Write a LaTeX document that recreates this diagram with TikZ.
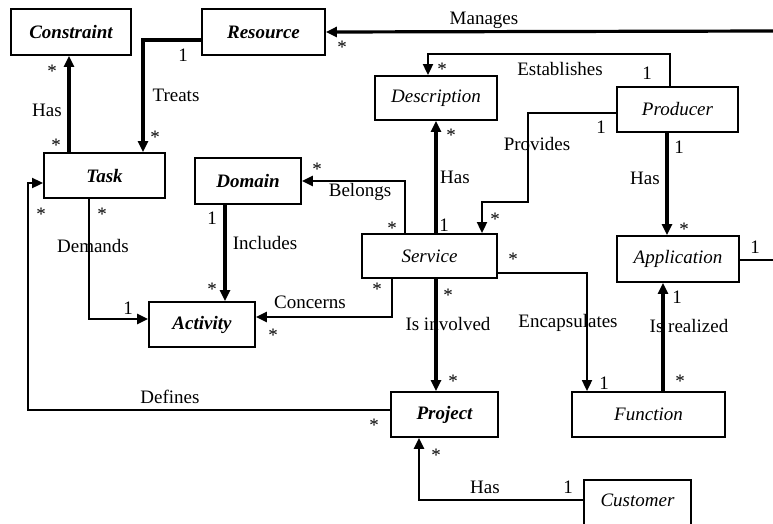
\documentclass[tikz,border=0pt]{standalone}
\usepackage{fontspec}
\setmainfont{Liberation Serif}
\usetikzlibrary{arrows.meta}

\begin{document}
\begin{tikzpicture}[x=1pt,y=-1pt]
\tikzstyle{every node}=[font=\fontsize{19}{22}\selectfont,inner sep=1pt]
\tikzstyle{entity}=[draw,line width=1.8pt,inner sep=0pt,font=\fontsize{19}{22}\selectfont\itshape]
\tikzstyle{core}=[entity,font=\fontsize{19}{22}\selectfont\bfseries\itshape]
\tikzstyle{weak}=[line width=1.8pt,-{Triangle[length=11pt,width=10pt]}]
\tikzstyle{strong}=[line width=3.2pt,-{Triangle[length=11pt,width=10pt]}]
\useasboundingbox (0,0) rectangle (773,523);
\clip (0,0) rectangle (773,523);
% classes
\node[core,minimum width=120,minimum height=46] (Constraint) at (71,32) {Constraint};
\node[core,minimum width=123,minimum height=46] (Resource) at (263.5,32) {Resource};
\node[entity,minimum width=122,minimum height=44] (Description) at (436,98) {Description};
\node[entity,minimum width=121,minimum height=45] (Producer) at (677.5,109.5) {Producer};
\node[core,minimum width=121,minimum height=45] (Task) at (104.5,175.5) {Task};
\node[core,minimum width=106,minimum height=46] (Domain) at (248,181) {Domain};
\node[entity,minimum width=135,minimum height=44] (Service) at (429.5,256) {Service};
\node[entity,minimum width=122,minimum height=46] (Application) at (678,259) {Application};
\node[core,minimum width=106,minimum height=45] (Activity) at (202,324.5) {Activity};
\node[core,minimum width=107,minimum height=45] (Project) at (444.5,414.5) {Project};
\node[entity,minimum width=153,minimum height=45] (Function) at (648.5,414.5) {Function};
\node[entity,minimum width=107,minimum height=50,text depth=10pt] (Customer) at (637.5,505) {Customer};
\coordinate (mgrEnd) at (773,31);
\coordinate (appEnd) at (773,260);
% associations
\draw[strong] (mgrEnd) -- (Resource.east);
\draw[strong] (Resource.west |- 0,40) -| (Task.north -| 143,0);
\draw[strong] (Task.north -| 69,0) -- (Constraint.south -| 69,0);
\draw[weak] (Producer.north -| 670,0) -- ++(0,-32) -| (Description.north -| 428,0);
\draw[weak] (Producer.west |- 0,113) -| (528,202) -| (Service.north -| 482,0);
\draw[strong] (Service.north -| 436,0) -- (Description.south -| 436,0);
\draw[strong,line width=4pt] (Producer.south -| 667,0) -- (Application.north -| 667,0);
\draw[line width=1.8pt] (Application.east |- appEnd) -- (appEnd);
\draw[strong,line width=2.6pt] (Service.north -| 405,0) |- (Domain.east);
\draw[strong] (Domain.south -| 225,0) -- (Activity.north -| 225,0);
\draw[strong,line width=2.6pt] (Service.south -| 392,0) |- (Activity.east |- 0,317);
\draw[strong,line width=2.4pt] (Task.south -| 89,0) |- (Activity.west |- 0,319);
\draw[weak] (Project.west |- 0,410) -| (28,183) -- (Task.west |- 0,183);
\draw[strong] (Service.south -| 436,0) -- (Project.north -| 436,0);
\draw[weak] (Service.east |- 0,273) -| (Function.north -| 587,0);
\draw[strong] (Function.north -| 663,0) -- (Application.south -| 663,0);
\draw[strong,line width=2.4pt] (Customer.west |- 0,500) -| (Project.south -| 419,0);
% role names and multiplicities
\node (manages) at (484,20) {Manages};
\node (manS) at (342,47) {*};
\node (treats1) at (183,55) {1};
\node (treats) at (176,95) {Treats};
\node (treatsS) at (155,137) {*};
\node (hasC1) at (52,71) {*};
\node (hasC) at (47,110) {Has};
\node (hasC2) at (56,145) {*};
\node (estS) at (442,69) {*};
\node (est) at (560,69) {Establishes};
\node (est1) at (647,73) {1};
\node (prov1) at (601,127) {1};
\node (prov) at (537,144) {Provides};
\node (provS) at (495,219) {*};
\node (hasDS) at (451,135) {*};
\node (hasD) at (455,177) {Has};
\node (hasD1) at (444,225) {1};
\node (hasA1) at (679,147) {1};
\node (hasA) at (645,178) {Has};
\node (hasAS) at (684,229) {*};
\node (app1) at (755,247) {1};
\node (belS1) at (317,169) {*};
\node (bel) at (360,192) {Belongs};
\node (belS2) at (392,228) {*};
\node (inc1) at (212,218) {1};
\node (inc) at (265,243) {Includes};
\node (incS) at (212,289) {*};
\node (conS1) at (377,289) {*};
\node (con) at (310,302) {Concerns};
\node (conS2) at (273,335) {*};
\node (demS1) at (41,214) {*};
\node (demS2) at (102,214) {*};
\node (dem) at (93,246) {Demands};
\node (dem1) at (128,308) {1};
\node (def) at (170,397) {Defines};
\node (defS) at (374,425) {*};
\node (invS1) at (448,295) {*};
\node (inv) at (448,324) {Is involved};
\node (invS2) at (453,381) {*};
\node (encS) at (513,259) {*};
\node (enc) at (568,323) {Encapsulates};
\node (enc1) at (604,383) {1};
\node (rea1) at (677,297) {1};
\node (rea) at (689,326) {Is realized};
\node (reaS) at (680,381) {*};
\node (cusS) at (436,455) {*};
\node (cus) at (485,487) {Has};
\node (cus1) at (568,487) {1};
\end{tikzpicture}
\end{document}
